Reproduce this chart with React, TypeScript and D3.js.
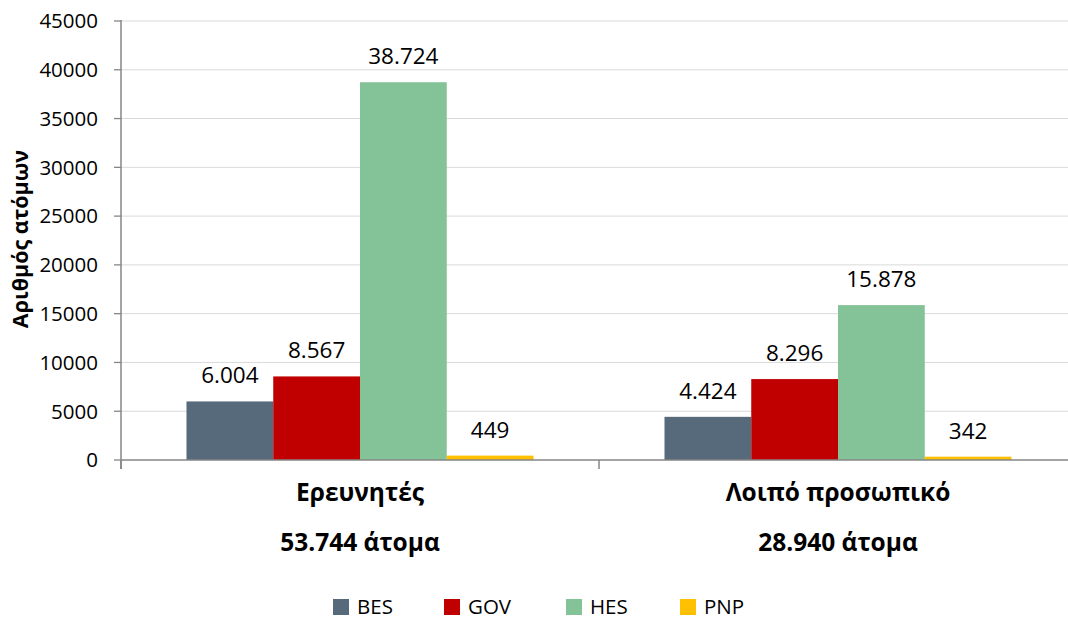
import React from "react";
import * as d3 from "d3";

const categories = ["Ερευνητές", "Λοιπό προσωπικό"];
const categoryTotals = ["53.744 άτομα", "28.940 άτομα"];
const seriesNames = ["BES", "GOV", "HES", "PNP"];
const seriesColors = ["#566a7b", "#c00000", "#84c298", "#ffc000"];
const valuesResearchers = [6004, 8567, 38724, 449];
const valuesOther = [4424, 8296, 15878, 342];
const yTicks = [0, 5000, 10000, 15000, 20000, 25000, 30000, 35000, 40000, 45000];
const yAxisTitle = "Αριθμός ατόμων";

const data = [valuesResearchers, valuesOther];
const FONT = "'Open Sans', sans-serif";

export default function App() {
  const W = 1068;
  const H = 620;
  const left = 121;
  const right = 1077;
  const top = 21;
  const bottom = 460;

  const y = d3.scaleLinear().domain([0, 45000]).range([bottom, top]);
  const x0 = d3.scaleBand<string>().domain(categories).range([left, right]).padding(0);
  const x1 = d3
    .scaleBand<string>()
    .domain(seriesNames)
    .range([0, x0.bandwidth()])
    .paddingInner(0)
    .paddingOuter(0.755);

  const locale = d3.formatLocale({ decimal: ",", thousands: ".", grouping: [3], currency: ["", "€"] });
  const fmt = locale.format(",d");

  const legendX = [333, 444, 566, 680];

  return (
    <svg width={W} height={H} style={{ position: "absolute", left: 0, top: 0, background: "#fff" }}>
      {/* gridlines */}
      {yTicks.map((t) =>
        t === 0 ? null : (
          <line key={"g" + t} x1={left} x2={right} y1={y(t)} y2={y(t)} stroke="#d9d9d9" strokeWidth={1} />
        )
      )}
      {/* y tick labels and ticks */}
      {yTicks.map((t) => (
        <g key={"t" + t}>
          <line x1={114} x2={left} y1={y(t)} y2={y(t)} stroke="#868686" strokeWidth={1.3} />
          <text
            x={98}
            y={y(t)}
            dy="0.36em"
            textAnchor="end"
            fontFamily={FONT}
            fontSize={20.5}
            fill="#000"
          >
            {t}
          </text>
        </g>
      ))}
      {/* bars */}
      {categories.map((c, ci) =>
        seriesNames.map((s, si) => {
          const v = data[ci][si];
          const bx = (x0(c) as number) + (x1(s) as number);
          return (
            <g key={c + s}>
              <rect
                x={bx}
                y={y(v)}
                width={x1.bandwidth()}
                height={bottom - y(v)}
                fill={seriesColors[si]}
              />
              <text
                x={bx + x1.bandwidth() / 2}
                y={y(v) - 18}
                textAnchor="middle"
                fontFamily={FONT}
                fontSize={22.5}
                fill="#000"
              >
                {fmt(v)}
              </text>
            </g>
          );
        })
      )}
      {/* y axis line */}
      <line x1={left} x2={left} y1={top - 1} y2={bottom + 9} stroke="#868686" strokeWidth={1.5} />
      {/* x axis line */}
      <line x1={left} x2={right} y1={bottom} y2={bottom} stroke="#868686" strokeWidth={1.5} />
      {/* category ticks */}
      {[...categories.map((c) => x0(c) as number), right].map((tx, i) => (
        <line key={"ct" + i} x1={tx} x2={tx} y1={bottom} y2={bottom + 9} stroke="#868686" strokeWidth={1.5} />
      ))}
      {/* category labels */}
      {categories.map((c, ci) => {
        const cx = (x0(c) as number) + x0.bandwidth() / 2;
        return (
          <g key={"cl" + c}>
            <text x={cx} y={501} textAnchor="middle" fontFamily={FONT} fontWeight="bold" fontSize={24.5} fill="#000">
              {c}
            </text>
            <text x={cx} y={551} textAnchor="middle" fontFamily={FONT} fontWeight="bold" fontSize={24.5} fill="#000">
              {categoryTotals[ci]}
            </text>
          </g>
        );
      })}
      {/* y axis title */}
      <text
        transform={`translate(28, 239) rotate(-90)`}
        textAnchor="middle"
        fontFamily={FONT}
        fontWeight="bold"
        fontSize={21.5}
        fill="#000"
      >
        {yAxisTitle}
      </text>
      {/* legend */}
      {seriesNames.map((s, i) => (
        <g key={"lg" + s}>
          <rect x={legendX[i]} y={599} width={16} height={16} fill={seriesColors[i]} />
          <text x={legendX[i] + 24} y={614} fontFamily={FONT} fontSize={20.5} fill="#000">
            {s}
          </text>
        </g>
      ))}
    </svg>
  );
}
